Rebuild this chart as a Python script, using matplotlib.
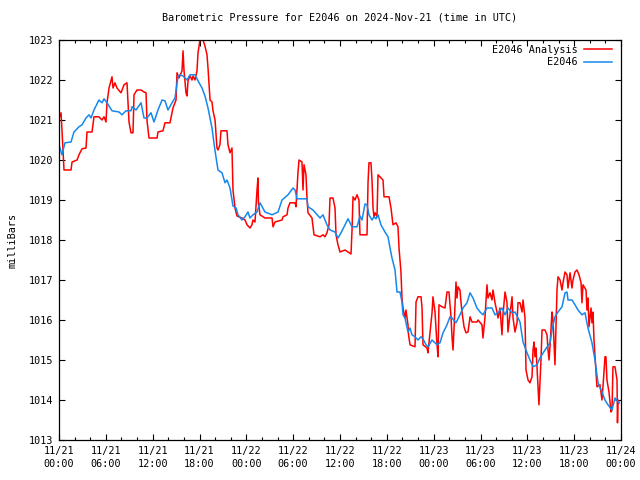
import matplotlib
matplotlib.use("Agg")
import matplotlib.pyplot as plt
import matplotlib.dates as mdates
import numpy as np
import pandas as pd

start = pd.Timestamp("2024-11-21 00:00")

# hours since 11/21 00:00 UTC, pressure in mbar
hours_obs = [0.00, 0.38, 0.77, 1.54, 1.92, 2.56, 2.95, 3.46, 3.84, 4.10, 4.48, 5.12, 5.51, 5.77,
             6.15, 6.79, 7.69, 8.07, 8.58, 9.22, 9.35, 9.86, 10.51, 10.89, 11.27, 11.79, 12.17,
             12.68, 13.20, 13.58, 13.96, 14.48, 14.86, 15.25, 15.50, 15.89, 16.40, 16.78, 17.42,
             17.81, 18.32, 18.70, 19.09, 19.60, 19.99, 20.37, 20.88, 21.27, 21.52, 21.91, 22.29,
             22.68, 22.93, 23.44, 23.83, 24.21, 24.47, 24.85, 25.37, 25.75, 26.39, 27.29, 28.06,
             28.57, 29.34, 29.98, 30.24, 30.49, 31.77, 31.90, 32.54, 33.44, 33.82, 34.33, 34.72,
             35.36, 35.74, 36.13, 36.64, 37.03, 37.54, 38.18, 38.56, 38.82, 39.20, 39.46, 39.71,
             40.10, 40.36, 40.61, 40.87, 41.25, 41.76, 42.15, 42.41, 42.66, 43.05, 43.30, 43.69,
             43.94, 44.07, 44.33, 44.71, 44.97, 45.22, 45.61, 45.99, 46.38, 46.63, 47.02, 47.27,
             47.79, 48.43, 48.81, 49.20, 49.71, 50.09, 50.35, 50.86, 51.37, 51.76, 52.27, 52.66,
             53.04, 53.55, 53.94, 54.32, 54.83, 55.47, 55.86, 56.24, 56.75, 57.14, 57.52, 58.04,
             58.42, 59.06, 59.45, 59.96, 60.34, 60.73, 61.24, 61.62, 62.26, 62.90, 63.16, 63.54,
             63.93, 64.44, 64.83, 65.08, 65.21, 65.72, 66.11, 66.49, 67.00, 67.39, 67.77, 68.28,
             68.67, 69.05, 69.56, 69.95, 70.33, 70.85, 71.23, 71.74]
mb_obs = [1020.38, 1020.13, 1020.43, 1020.45, 1020.70, 1020.83, 1020.88, 1021.05, 1021.13,
          1021.05, 1021.25, 1021.50, 1021.43, 1021.53, 1021.43, 1021.23, 1021.20, 1021.13,
          1021.23, 1021.23, 1021.33, 1021.25, 1021.43, 1021.05, 1021.05, 1021.18, 1020.95,
          1021.25, 1021.50, 1021.48, 1021.25, 1021.43, 1021.55, 1022.10, 1022.13, 1022.10,
          1022.00, 1022.13, 1022.13, 1021.98, 1021.80, 1021.60, 1021.30, 1020.80, 1020.23,
          1019.75, 1019.68, 1019.43, 1019.50, 1019.30, 1018.85, 1018.80, 1018.63, 1018.50,
          1018.58, 1018.70, 1018.55, 1018.63, 1018.70, 1018.93, 1018.70, 1018.63, 1018.70,
          1019.00, 1019.13, 1019.30, 1019.25, 1019.03, 1019.03, 1018.83, 1018.75, 1018.55,
          1018.63, 1018.38, 1018.25, 1018.20, 1018.05, 1018.18, 1018.38, 1018.53, 1018.33,
          1018.33, 1018.60, 1018.50, 1018.90, 1018.88, 1018.63, 1018.50, 1018.58, 1018.53,
          1018.63, 1018.38, 1018.20, 1018.08, 1017.80, 1017.55, 1017.25, 1016.70, 1016.70,
          1016.45, 1016.13, 1016.05, 1015.70, 1015.80, 1015.63, 1015.58, 1015.50, 1015.58,
          1015.53, 1015.38, 1015.33, 1015.50, 1015.38, 1015.43, 1015.68, 1015.88, 1016.08,
          1016.05, 1015.93, 1016.13, 1016.30, 1016.43, 1016.68, 1016.55, 1016.30, 1016.20,
          1016.13, 1016.30, 1016.30, 1016.13, 1016.18, 1016.30, 1016.13, 1016.30, 1016.18,
          1016.20, 1015.95, 1015.45, 1015.18, 1015.00, 1014.83, 1014.88, 1015.05, 1015.25,
          1015.43, 1015.75, 1016.08, 1016.20, 1016.33, 1016.68, 1016.70, 1016.50, 1016.50,
          1016.38, 1016.25, 1016.13, 1016.18, 1015.80, 1015.43, 1015.00, 1014.43, 1014.20,
          1014.00, 1013.88, 1013.75, 1014.05, 1013.93]

hours_ana = [0.00, 0.26, 0.38, 0.64, 1.54, 1.67, 2.31, 2.56, 2.95, 3.46, 3.59, 4.23, 4.48, 5.12,
             5.51, 5.77, 6.02, 6.15, 6.41, 6.79, 6.92, 7.17, 7.43, 7.94, 8.33, 8.71, 8.97, 9.22,
             9.48, 9.61, 9.99, 10.51, 10.89, 11.15, 11.27, 11.53, 12.56, 12.68, 13.32, 13.58,
             14.22, 14.60, 14.99, 15.12, 15.37, 15.76, 15.89, 16.01, 16.27, 16.40, 16.53, 16.78,
             17.04, 17.17, 17.42, 17.68, 17.81, 18.06, 18.45, 18.70, 18.96, 19.09, 19.35, 19.60,
             19.73, 19.99, 20.24, 20.37, 20.62, 20.75, 21.52, 21.65, 21.91, 22.16, 22.29, 22.55,
             22.80, 23.44, 23.83, 24.09, 24.47, 24.72, 24.85, 25.11, 25.37, 25.49, 25.55, 25.75,
             26.39, 27.29, 27.42, 27.67, 28.57, 28.70, 29.21, 29.34, 29.59, 30.24, 30.36, 30.62,
             30.75, 31.13, 31.26, 31.39, 31.64, 31.77, 31.90, 32.41, 32.67, 33.44, 33.82, 34.07,
             34.33, 34.59, 34.72, 35.10, 35.36, 35.49, 35.74, 36.00, 36.64, 37.03, 37.41, 37.54,
             37.67, 37.92, 38.18, 38.43, 38.56, 39.46, 39.59, 39.71, 39.97, 40.10, 40.23, 40.36,
             40.49, 40.74, 40.87, 41.12, 41.51, 41.64, 42.28, 42.53, 42.79, 43.17, 43.43, 43.56,
             43.81, 43.94, 44.07, 44.33, 44.45, 44.71, 44.78, 44.97, 45.61, 45.74, 45.99, 46.38,
             46.51, 46.63, 47.15, 47.27, 47.53, 47.79, 47.91, 48.17, 48.43, 48.56, 48.68, 49.07,
             49.45, 49.71, 49.96, 50.09, 50.22, 50.35, 50.48, 50.61, 50.86, 50.99, 51.12, 51.37,
             51.50, 51.63, 51.89, 52.14, 52.40, 52.66, 52.91, 53.55, 53.68, 54.19, 54.32, 54.58,
             54.83, 54.96, 55.22, 55.47, 55.60, 55.86, 56.11, 56.24, 56.50, 56.75, 56.88, 57.14,
             57.39, 57.52, 57.78, 58.04, 58.17, 58.42, 58.68, 58.80, 59.06, 59.32, 59.45, 59.70,
             59.83, 60.09, 60.34, 60.60, 60.73, 60.86, 60.98, 61.11, 61.24, 61.37, 61.49, 61.75,
             61.88, 62.26, 62.52, 62.65, 62.78, 62.90, 63.16, 63.29, 63.54, 63.67, 63.80, 63.93,
             64.19, 64.44, 64.57, 64.83, 65.08, 65.21, 65.47, 65.72, 65.85, 66.11, 66.36, 66.62,
             66.88, 67.00, 67.13, 67.52, 67.64, 67.77, 67.90, 68.16, 68.28, 68.41, 68.54, 68.80,
             68.92, 69.31, 69.56, 69.69, 69.95, 70.07, 70.20, 70.46, 70.72, 70.85, 70.97, 71.23,
             71.49, 71.55, 71.62, 71.74]
mb_ana = [1021.05, 1021.18, 1020.75, 1019.75, 1019.75, 1019.95, 1020.00, 1020.13, 1020.28,
          1020.30, 1020.70, 1020.70, 1021.08, 1021.08, 1021.00, 1021.08, 1020.95, 1021.43,
          1021.80, 1022.08, 1021.80, 1021.93, 1021.80, 1021.68, 1021.88, 1021.93, 1020.95,
          1020.68, 1020.68, 1021.63, 1021.75, 1021.75, 1021.70, 1021.68, 1021.00, 1020.55,
          1020.55, 1020.70, 1020.73, 1020.93, 1020.93, 1021.30, 1021.50, 1022.18, 1022.05,
          1022.23, 1022.73, 1022.25, 1021.68, 1021.60, 1021.98, 1022.10, 1022.00, 1022.10,
          1022.00, 1022.23, 1022.68, 1023.00, 1023.00, 1022.85, 1022.63, 1022.30, 1021.50,
          1021.45, 1021.23, 1021.00, 1020.30, 1020.25, 1020.38, 1020.73, 1020.73, 1020.38,
          1020.18, 1020.30, 1019.25, 1018.80, 1018.60, 1018.55, 1018.50, 1018.38, 1018.30,
          1018.38, 1018.50, 1018.45, 1019.25, 1019.55, 1018.93, 1018.63, 1018.55, 1018.55,
          1018.33, 1018.45, 1018.50, 1018.58, 1018.63, 1018.80, 1018.93, 1018.93, 1018.83,
          1019.70, 1020.00, 1019.95, 1019.25, 1019.88, 1019.63, 1019.05, 1018.68, 1018.55,
          1018.13, 1018.08, 1018.13, 1018.08, 1018.18, 1018.38, 1019.05, 1019.05, 1018.80,
          1018.13, 1017.88, 1017.70, 1017.75, 1017.70, 1017.65, 1018.25, 1019.08, 1019.00,
          1019.13, 1019.00, 1018.13, 1018.13, 1019.43, 1019.93, 1019.93, 1019.50, 1018.80,
          1018.58, 1018.68, 1018.58, 1019.63, 1019.58, 1019.50, 1019.08, 1019.08, 1018.80,
          1018.38, 1018.43, 1018.33, 1017.80, 1017.20, 1016.55, 1016.30, 1016.05, 1016.25,
          1015.88, 1015.63, 1015.38, 1015.33, 1016.45, 1016.58, 1016.58, 1016.30, 1015.38,
          1015.30, 1015.18, 1015.68, 1016.18, 1016.58, 1016.20, 1015.38, 1015.08, 1016.38,
          1016.33, 1016.30, 1016.70, 1016.70, 1016.38, 1016.08, 1015.58, 1015.25, 1015.80,
          1016.95, 1016.55, 1016.83, 1016.75, 1016.45, 1016.20, 1015.83, 1015.68, 1015.70,
          1016.08, 1015.95, 1015.95, 1016.00, 1015.88, 1015.55, 1016.08, 1016.88, 1016.55,
          1016.68, 1016.50, 1016.75, 1016.43, 1016.20, 1016.05, 1016.30, 1015.63, 1016.13,
          1016.70, 1016.45, 1015.70, 1016.13, 1016.58, 1016.05, 1015.70, 1015.93, 1016.43,
          1016.43, 1016.20, 1016.50, 1016.05, 1014.75, 1014.50, 1014.43, 1014.58, 1015.25,
          1015.45, 1015.08, 1015.30, 1014.80, 1014.33, 1013.88, 1015.00, 1015.75, 1015.75,
          1015.63, 1015.25, 1015.00, 1015.33, 1016.20, 1016.00, 1014.88, 1015.83, 1016.75,
          1017.08, 1017.00, 1016.75, 1016.93, 1017.20, 1017.13, 1016.80, 1017.18, 1016.80,
          1017.00, 1017.20, 1017.25, 1017.13, 1016.93, 1016.43, 1016.88, 1016.75, 1016.25,
          1016.55, 1015.83, 1016.30, 1015.93, 1016.20, 1015.50, 1014.68, 1014.33, 1014.38,
          1014.00, 1014.33, 1015.08, 1015.08, 1014.50, 1014.20, 1013.70, 1013.75, 1014.83,
          1014.83, 1014.50, 1013.43, 1014.00, 1013.93]

t_obs = start + pd.to_timedelta(hours_obs, unit="h")
t_ana = start + pd.to_timedelta(hours_ana, unit="h")

font = "DejaVu Sans Mono"
fs = 7.3

fig = plt.figure(figsize=(6.4, 4.8), dpi=100)
ax = fig.add_axes([59/640, 40/480, 562/640, 400/480])

ax.plot(t_ana, mb_ana, color="#ff0000", lw=1.1, label="E2046 Analysis")
ax.plot(t_obs, mb_obs, color="#1588ee", lw=1.1, label="E2046")

ax.set_xlim(start, start + pd.Timedelta(hours=72))
ax.set_ylim(1013, 1023)
ax.set_yticks(np.arange(1013, 1024, 1))

ax.xaxis.set_major_locator(mdates.HourLocator(byhour=[0, 6, 12, 18]))
ax.xaxis.set_minor_locator(mdates.HourLocator(byhour=range(0, 24, 2)))
ax.xaxis.set_major_formatter(mdates.DateFormatter("%m/%d\n%H:%M"))

ax.tick_params(which="both", direction="in", top=True, right=True, colors="black")
ax.tick_params(which="major", length=4, width=0.8, pad=4)
ax.tick_params(which="minor", length=2, width=0.8)
for lab in ax.get_xticklabels() + ax.get_yticklabels():
    lab.set_fontfamily(font)
    lab.set_fontsize(fs)
    lab.set_linespacing(1.4)
for s in ax.spines.values():
    s.set_linewidth(0.9)

ax.set_ylabel("milliBars", fontfamily=font, fontsize=fs, labelpad=8)
ax.set_title("Barometric Pressure for E2046 on 2024-Nov-21 (time in UTC)",
             fontfamily=font, fontsize=fs, pad=14)

leg = ax.legend(loc="upper right", bbox_to_anchor=(0.997, 1.006), frameon=False,
                markerfirst=False, handlelength=2.8, handletextpad=0.6,
                labelspacing=0.25, borderpad=0.2, prop={"family": font, "size": fs})

fig.savefig("out.png", dpi=100)
